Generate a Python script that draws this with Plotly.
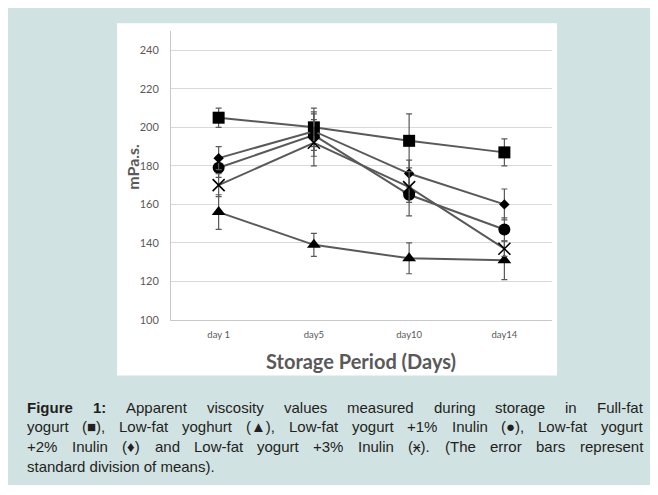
import plotly.graph_objects as go

# ---------------- data ----------------
days = ["day 1", "day5", "day10", "day14"]

full_fat = [205, 200, 193, 187]
full_fat_err = [5, 10, 14, 7]

low_fat = [156, 139, 132, 131]
low_fat_err = [9, 6, 8, 10]

inulin_1 = [179, 196, 165, 147]
inulin_1_err = [5, 11, 11, 6]

inulin_2 = [184, 198, 176, 160]
inulin_2_err = [6, 10, 7, 8]

inulin_3 = [170, 192, 169, 137]
inulin_3_err = [6, 12, 8, 4]

y_ticks = [100, 120, 140, 160, 180, 200, 220, 240]

caption_lines = [
    "<b>Figure</b> <b>1:</b> Apparent viscosity values measured during storage in Full-fat",
    "yogurt (■), Low-fat yoghurt (▲), Low-fat yogurt +1% Inulin (●), Low-fat yogurt",
    "+2% Inulin (♦) and Low-fat yogurt +3% Inulin (ӿ). (The error bars represent",
    "standard division of means).",
]

series = [
    ("Full-fat yogurt", full_fat, full_fat_err, "square", 12),
    ("Low-fat yoghurt", low_fat, low_fat_err, "triangle-up", 12),
    ("Low-fat yogurt +1% Inulin", inulin_1, inulin_1_err, "circle", 12),
    ("Low-fat yogurt +2% Inulin", inulin_2, inulin_2_err, "diamond", 8),
    ("Low-fat yogurt +3% Inulin", inulin_3, inulin_3_err, "x-thin", 12),
]

W, H = 658, 477
L, R = 163, 544          # plot area pixel extents (figure coords)
T, B = 22.7, 312.3

def px(x):
    return (x - L) / (R - L)

def py(y):
    return (B - y) / (B - T)

TEAL = "#d1e2e2"
GRAY = "#595959"

fig = go.Figure()
for name, vals, err, sym, size in series:
    marker = dict(symbol=sym, size=size, color="black")
    if sym == "x-thin":
        marker["line"] = dict(color="black", width=1.6)
    fig.add_trace(go.Scatter(
        x=days, y=vals, name=name, mode="lines+markers",
        line=dict(color=GRAY, width=2),
        marker=marker,
        error_y=dict(type="data", array=err, visible=True,
                     color=GRAY, thickness=1.2, width=3),
        showlegend=False,
    ))

shapes = [
    dict(type="rect", xref="paper", yref="paper",
         x0=px(109), x1=px(549), y0=py(368), y1=py(15),
         fillcolor="white", line=dict(width=0), layer="below"),
]

# ---- justified caption (Arial / Liberation Sans metrics, per 1000 em) ----
REG = {' ': 278, '!': 278, '%': 889, '(': 333, ')': 333, '+': 584, ',': 278,
       '-': 333, '.': 278, ':': 278, 'A': 667, 'F': 611, 'I': 278, 'L': 556,
       'T': 611, 'a': 556, 'b': 556, 'c': 500, 'd': 556, 'e': 556, 'f': 278,
       'g': 556, 'h': 556, 'i': 222, 'j': 222, 'k': 500, 'l': 222, 'm': 833,
       'n': 556, 'o': 556, 'p': 556, 'q': 556, 'r': 333, 's': 500, 't': 278,
       'u': 556, 'v': 500, 'w': 722, 'x': 500, 'y': 500, 'z': 500,
       '■': 604, '▲': 990, '●': 604, '♦': 604, 'ӿ': 600}
BOLD = {'F': 611, 'i': 278, 'g': 611, 'u': 611, 'r': 389, 'e': 556, ':': 333}
for d in "0123456789":
    REG[d] = 556
    BOLD[d] = 556

FS = 15
CAP_FAMILY = "Liberation Sans, Arial"

def word_width(w):
    bold = w.startswith("<b>")
    raw = w.replace("<b>", "").replace("</b>", "")
    tab = BOLD if bold else REG
    return sum(tab.get(c, REG.get(c, 556)) for c in raw) * FS / 1000.0

X_LEFT, X_RIGHT = 17, 633
line_y = [399.5, 419.5, 439.5, 459.5]
cap_font = dict(family=CAP_FAMILY, size=FS, color="#231f20")

annotations = []
for i, (line, y) in enumerate(zip(caption_lines, line_y)):
    if i == len(caption_lines) - 1:
        annotations.append(dict(text=line, xref="paper", yref="paper",
                                x=px(X_LEFT), y=py(y), xanchor="left",
                                yanchor="middle", showarrow=False, font=cap_font))
        continue
    words = line.split(" ")
    widths = [word_width(w) for w in words]
    gap = (X_RIGHT - X_LEFT - sum(widths)) / (len(words) - 1)
    xpos = X_LEFT
    for w, wd in zip(words, widths):
        annotations.append(dict(text=w, xref="paper", yref="paper",
                                x=px(xpos), y=py(y), xanchor="left",
                                yanchor="middle", showarrow=False, font=cap_font))
        xpos += wd + gap

annotations.append(dict(text="<b>mPa.s.</b>", xref="paper", yref="paper",
                        x=px(123.7), y=py(159), xanchor="center", yanchor="middle",
                        textangle=-90, showarrow=False,
                        font=dict(family="Lato", size=16, color=GRAY)))
annotations.append(dict(text="<b>Storage Period (Days)</b>", xref="paper", yref="paper",
                        x=px(353), y=py(353), xanchor="center", yanchor="middle",
                        showarrow=False,
                        font=dict(family="Lato", size=20, color=GRAY)))

fig.update_layout(
    width=W, height=H,
    margin=dict(l=L, r=W - R, t=T, b=H - B, pad=0),
    paper_bgcolor=TEAL, plot_bgcolor="white",
    shapes=shapes, annotations=annotations,
    xaxis=dict(type="category", range=[-0.5, 3.5], showgrid=False,
               showline=True, linecolor="#c8c8c8", linewidth=1, ticks="",
               tickfont=dict(family="Lato", size=9.5, color=GRAY),
               ticklabelstandoff=6, zeroline=False),
    yaxis=dict(range=[100, 250], tickvals=y_ticks, showgrid=True,
               gridcolor="#d9d9d9", gridwidth=1,
               showline=True, linecolor="#c8c8c8", linewidth=1, ticks="",
               tickfont=dict(family="Lato", size=11, color=GRAY),
               ticklabelstandoff=9, zeroline=False),
)

fig.write_html("out.html")
